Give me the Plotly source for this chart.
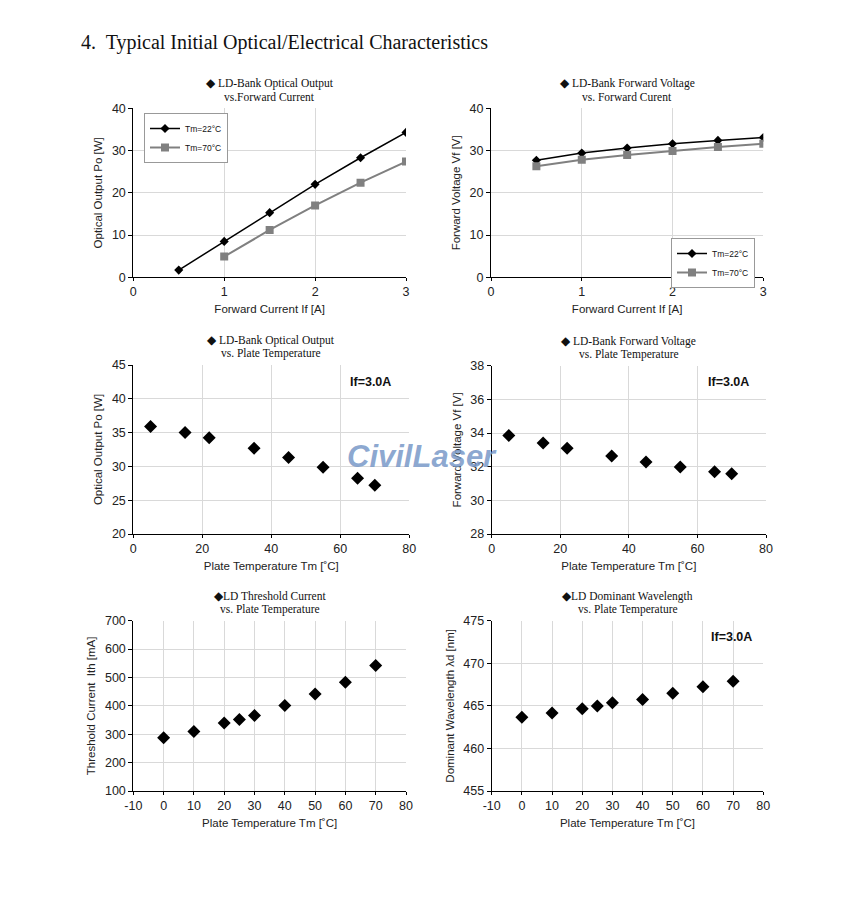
import plotly.graph_objects as go

# ---------------- data ----------------
if_current = [0.5, 1.0, 1.5, 2.0, 2.5, 3.0]
po_22 = [1.7, 8.5, 15.3, 22.0, 28.3, 34.3]
if_current_70 = [1.0, 1.5, 2.0, 2.5, 3.0]
po_70 = [4.9, 11.2, 17.0, 22.4, 27.4]

vf_22 = [27.7, 29.4, 30.6, 31.6, 32.4, 33.1]
vf_70 = [26.3, 27.8, 28.95, 29.9, 30.85, 31.6]

tm_a = [5, 15, 22, 35, 45, 55, 65, 70]
po_tm = [35.9, 35.0, 34.25, 32.67, 31.3, 29.86, 28.23, 27.2]
vf_tm = [33.86, 33.41, 33.09, 32.63, 32.28, 31.98, 31.70, 31.58]

tm_b = [0, 10, 20, 25, 30, 40, 50, 60, 70]
ith = [288, 310, 340, 352, 366, 401, 442, 483, 542]
wl = [463.65, 464.16, 464.67, 464.98, 465.37, 465.76, 466.47, 467.25, 467.88]

# tick labels for the -10..80 temperature axes (plain hyphen minus)
temp_ticks = [-10, 0, 10, 20, 30, 40, 50, 60, 70, 80]
temp_tick_labels = ["-10", "0", "10", "20", "30", "40", "50", "60", "70", "80"]

# page body has an 8px default margin
OFF = 8
W, H = 846 - 2 * OFF, 912 - 2 * OFF

def fx(a):
    return (a - OFF) / W

def fy(a):
    return 1 - (a - OFF) / H

fig = go.Figure()

BLACK = "#000000"
GRAY = "#808080"
SANS = "Arial, Liberation Sans, sans-serif"
TICKFONT = dict(family=SANS, size=12.5, color="#222222")
TITLEFONT = dict(family=SANS, size=11.5, color="#222222")
SERIF = "Liberation Serif, Times New Roman, serif"

panels = [
    dict(x=(133.3, 406), y=(108.3, 277.3), xr=[0, 3], xd=1, yr=[0, 40], yd=10,
         xt="Forward Current If [A]", yt="Optical Output Po [W]",
         t1="◆ LD-Bank Optical Output", t2="vs.Forward Current"),
    dict(x=(491, 763.3), y=(108.3, 277.3), xr=[0, 3], xd=1, yr=[0, 40], yd=10,
         xt="Forward Current If [A]", yt="Forward Voltage Vf [V]",
         t1="◆ LD-Bank Forward Voltage", t2="vs. Forward Curent"),
    dict(x=(133.3, 409.3), y=(365, 534), xr=[0, 80], xd=20, yr=[20, 45], yd=5,
         xt="Plate Temperature Tm [˚C]", yt="Optical Output Po [W]",
         t1="◆ LD-Bank Optical Output", t2="vs. Plate Temperature"),
    dict(x=(491.7, 766), y=(365.7, 534), xr=[0, 80], xd=20, yr=[28, 38], yd=2,
         xt="Plate Temperature Tm [˚C]", yt="Forward Voltage Vf [V]",
         t1="◆ LD-Bank Forward Voltage", t2="vs. Plate Temperature"),
    dict(x=(133.3, 406), y=(620.7, 791), xr=[-10, 80], xd=10, yr=[100, 700], yd=100,
         xt="Plate Temperature Tm [˚C]", yt="Threshold Current  Ith [mA]",
         t1="◆LD Threshold Current", t2="vs. Plate Temperature", neg=True),
    dict(x=(491.7, 763.3), y=(620.7, 791), xr=[-10, 80], xd=10, yr=[455, 475], yd=5,
         xt="Plate Temperature Tm [˚C]", yt="Dominant Wavelength λd [nm]",
         t1="◆LD Dominant Wavelength", t2="vs. Plate Temperature", neg=True),
]

layout = dict(
    width=W, height=H,
    margin=dict(l=0, r=0, t=0, b=0, autoexpand=False),
    paper_bgcolor="white", plot_bgcolor="white",
    showlegend=True,
    annotations=[],
)

for i, p in enumerate(panels, start=1):
    xa = "xaxis" if i == 1 else f"xaxis{i}"
    ya = "yaxis" if i == 1 else f"yaxis{i}"
    xref = "x" if i == 1 else f"x{i}"
    yref = "y" if i == 1 else f"y{i}"
    xaxis = dict(
        domain=[fx(p["x"][0]), fx(p["x"][1])], anchor=yref, range=p["xr"], dtick=p["xd"], tick0=0,
        showline=True, linecolor=BLACK, linewidth=1, showgrid=True, gridcolor="#d9d9d9",
        gridwidth=1, zeroline=False, ticks="outside", ticklen=3, tickcolor=BLACK,
        tickfont=TICKFONT, title=dict(text=p["xt"], font=TITLEFONT, standoff=6),
        automargin=False, fixedrange=True,
    )
    if p.get("neg"):
        xaxis.update(tickmode="array", tickvals=temp_ticks, ticktext=temp_tick_labels)
    layout[xa] = xaxis
    layout[ya] = dict(
        domain=[fy(p["y"][1]), fy(p["y"][0])], anchor=xref, range=p["yr"], dtick=p["yd"], tick0=0,
        showline=True, linecolor=BLACK, linewidth=1, showgrid=True, gridcolor="#d9d9d9",
        gridwidth=1, zeroline=False, ticks="outside", ticklen=4, tickcolor=BLACK,
        tickfont=TICKFONT, title=dict(text=p["yt"], font=TITLEFONT, standoff=6),
        automargin=False, fixedrange=True,
    )
    cx = fx((p["x"][0] + p["x"][1]) / 2)
    for txt, dy in ((p["t1"], 24.5), (p["t2"], 11.5)):
        layout["annotations"].append(dict(
            text=txt, x=cx, y=fy(p["y"][0] - dy), xref="paper", yref="paper",
            xanchor="center", yanchor="middle", showarrow=False, align="center",
            font=dict(family=SERIF, size=11.5, color="#111111"),
        ))

# If=3.0A labels
for (xx, yy) in [(370, 382), (728, 382), (731, 637)]:
    layout["annotations"].append(dict(
        text="<b>If=3.0A</b>", x=fx(xx), y=fy(yy), xref="paper", yref="paper",
        xanchor="center", yanchor="middle", showarrow=False,
        font=dict(family=SANS, size=12.5, color="#111111"),
    ))

# main title
layout["annotations"].append(dict(
    text="4.  Typical Initial Optical/Electrical Characteristics", x=fx(79), y=fy(42),
    xref="paper", yref="paper", xanchor="left", yanchor="middle", showarrow=False,
    font=dict(family=SERIF, size=20, color="#111111"),
))

# watermark
layout["annotations"].append(dict(
    text="<b><i>CivilLaser</i></b>", x=fx(422), y=fy(456), xref="paper", yref="paper",
    xanchor="center", yanchor="middle", showarrow=False,
    font=dict(family=SANS, size=31, color="rgba(120,152,200,0.85)"),
))

# legends
layout["legend"] = dict(
    x=fx(144), y=fy(113), xanchor="left", yanchor="top", bgcolor="white",
    bordercolor="#999999", borderwidth=1, font=dict(family=SANS, size=8.5, color="#111111"),
    itemwidth=30, tracegroupgap=0,
)
layout["legend2"] = dict(
    x=fx(671), y=fy(238), xanchor="left", yanchor="top", bgcolor="white",
    bordercolor="#999999", borderwidth=1, font=dict(family=SANS, size=8.5, color="#111111"),
    itemwidth=30, tracegroupgap=0,
)

# traces
fig.add_trace(go.Scatter(x=if_current, y=po_22, mode="lines+markers", name="Tm=22°C",
                         line=dict(color=BLACK, width=1.5), marker=dict(symbol="diamond", size=7, color=BLACK),
                         xaxis="x", yaxis="y", legend="legend"))
fig.add_trace(go.Scatter(x=if_current_70, y=po_70, mode="lines+markers", name="Tm=70°C",
                         line=dict(color=GRAY, width=2), marker=dict(symbol="square", size=8, color=GRAY),
                         xaxis="x", yaxis="y", legend="legend"))
fig.add_trace(go.Scatter(x=if_current, y=vf_22, mode="lines+markers", name="Tm=22°C",
                         line=dict(color=BLACK, width=1.5), marker=dict(symbol="diamond", size=7, color=BLACK),
                         xaxis="x2", yaxis="y2", legend="legend2"))
fig.add_trace(go.Scatter(x=if_current, y=vf_70, mode="lines+markers", name="Tm=70°C",
                         line=dict(color=GRAY, width=2), marker=dict(symbol="square", size=8, color=GRAY),
                         xaxis="x2", yaxis="y2", legend="legend2"))

dmark = dict(symbol="diamond", size=10, color=BLACK)
fig.add_trace(go.Scatter(x=tm_a, y=po_tm, mode="markers", marker=dmark, xaxis="x3", yaxis="y3", showlegend=False))
fig.add_trace(go.Scatter(x=tm_a, y=vf_tm, mode="markers", marker=dmark, xaxis="x4", yaxis="y4", showlegend=False))
fig.add_trace(go.Scatter(x=tm_b, y=ith, mode="markers", marker=dmark, xaxis="x5", yaxis="y5", showlegend=False))
fig.add_trace(go.Scatter(x=tm_b, y=wl, mode="markers", marker=dmark, xaxis="x6", yaxis="y6", showlegend=False))

fig.update_layout(**layout)
fig.write_html("out.html")
